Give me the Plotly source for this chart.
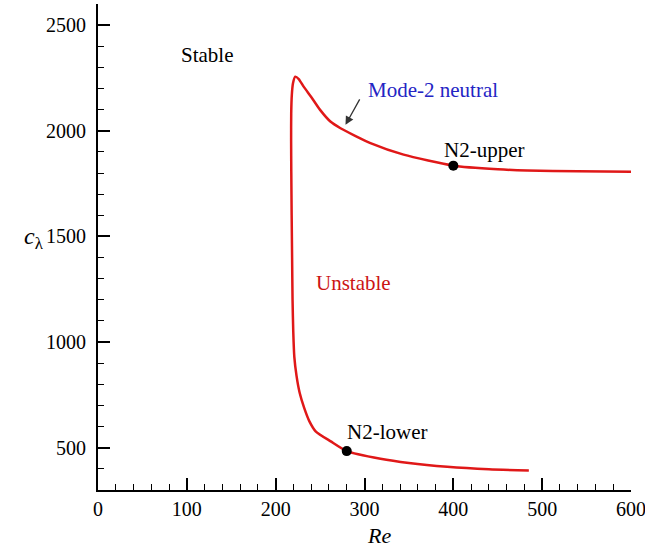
import plotly.graph_objects as go

# Neutral curve (ordered from lower-branch end to upper-branch end)
re_curve = [485, 440, 393, 350, 318, 280, 262, 245, 238, 232, 227, 223.5, 221, 219.8,
            219, 218.5, 218, 217.6, 217.4, 217.5, 218.2, 219.5, 222, 226, 231.5, 240,
            250, 261.6, 273, 290, 306.7, 344, 400, 450, 483, 540, 600]
c_curve = [392, 398, 410, 428, 448, 484, 530, 578, 625, 690, 760, 840, 930, 1050,
           1200, 1400, 1600, 1800, 1950, 2080, 2170, 2225, 2256, 2245, 2209, 2160,
           2099, 2044, 2012, 1975, 1942, 1887, 1835, 1818, 1812, 1808, 1806]

# Marked points
pt_re = [280, 400]
pt_c = [484, 1835]

# Text labels
lab_text = ["Stable", "Mode-2 neutral", "N2-upper", "Unstable", "N2-lower"]
lab_re = [123, 376.7, 434.2, 288, 324.8]
lab_c = [2359, 2193, 1909, 1280, 574]
lab_col = ["black", "#2424c4", "black", "#cc1414", "black"]

xticks = [0, 100, 200, 300, 400, 500, 600]
yticks = [500, 1000, 1500, 2000, 2500]

FONT = "Liberation Serif, Times New Roman, serif"

fig = go.Figure()
fig.add_trace(go.Scatter(x=re_curve, y=c_curve, mode="lines",
                         line=dict(color="#e01818", width=2.5, shape="spline", smoothing=0.6),
                         hoverinfo="skip", showlegend=False))
fig.add_trace(go.Scatter(x=pt_re, y=pt_c, mode="markers",
                         marker=dict(color="black", size=10),
                         showlegend=False))

for t, x, y, c in zip(lab_text, lab_re, lab_c, lab_col):
    fig.add_annotation(x=x, y=y, text=t, showarrow=False,
                       font=dict(family=FONT, size=21, color=c),
                       xanchor="center", yanchor="middle")

# arrow to Mode-2 neutral curve
fig.add_annotation(x=278.6, y=2028, ax=295.5, ay=2156, axref="x", ayref="y",
                   text="", showarrow=True, arrowhead=2, arrowsize=1.3,
                   arrowwidth=1.3, arrowcolor="#333333")

# axis titles as annotations
fig.add_annotation(xref="paper", yref="paper", x=-0.12, y=0.5185,
                   text="<i>c</i><sub>λ</sub>", showarrow=False,
                   xanchor="center", yanchor="middle",
                   font=dict(family=FONT, size=24, color="black"))
fig.add_annotation(xref="paper", yref="paper", x=0.527, y=-0.093,
                   text="<i>Re</i>", showarrow=False,
                   xanchor="center", yanchor="middle",
                   font=dict(family=FONT, size=22, color="black"))

axis_common = dict(showgrid=False, zeroline=False, showline=True,
                   linecolor="black", linewidth=2, ticks="inside",
                   tickcolor="black", tickwidth=2, ticklen=12,
                   ticklabeloverflow="allow", automargin=False,
                   tickfont=dict(family=FONT, size=20, color="black"))

fig.update_xaxes(range=[0, 600], tickvals=xticks,
                 minor=dict(dtick=20, ticks="inside", ticklen=6, tickwidth=1, tickcolor="black"),
                 **axis_common)
fig.update_yaxes(range=[300, 2600], tickvals=yticks, ticklabelstandoff=6,
                 minor=dict(dtick=100, ticks="inside", ticklen=6, tickwidth=1, tickcolor="black"),
                 **axis_common)

fig.update_layout(width=645, height=549,
                  margin=dict(l=98, r=14, t=4, b=59),
                  plot_bgcolor="white", paper_bgcolor="white",
                  font=dict(family=FONT, size=20, color="black"))

fig.write_html("out.html")
